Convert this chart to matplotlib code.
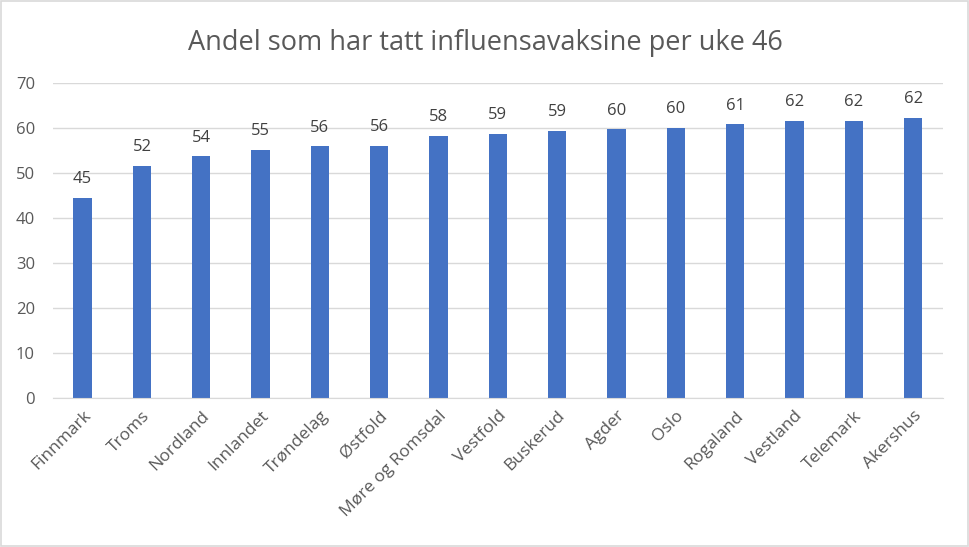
import matplotlib
matplotlib.use("Agg")
import matplotlib.pyplot as plt
from matplotlib.patches import Rectangle

categories = ["Finnmark", "Troms", "Nordland", "Innlandet", "Trøndelag", "Østfold",
              "Møre og Romsdal", "Vestfold", "Buskerud", "Agder", "Oslo", "Rogaland",
              "Vestland", "Telemark", "Akershus"]
values = [44.4, 51.5, 53.7, 55.2, 55.9, 56.0, 58.3, 58.6, 59.3, 59.7, 60.1, 60.8, 61.6, 61.6, 62.3]
labels = ["45", "52", "54", "55", "56", "56", "58", "59", "59", "60", "60", "61", "62", "62", "62"]
yticks = [0, 10, 20, 30, 40, 50, 60, 70]

plt.rcParams['font.family'] = ['Open Sans', 'DejaVu Sans']
txt = "#595959"

fig = plt.figure(figsize=(9.7, 5.47), dpi=100)
fig.patches.append(Rectangle((0.001, 0.001), 0.997, 0.997, transform=fig.transFigure,
                             fill=False, edgecolor="#d9d9d9", linewidth=1.2))
ax = fig.add_axes([0.0546, 0.2724, 0.9174, 0.5759])
x = list(range(len(categories)))
bars = ax.bar(x, values, width=0.31, color="#4472C4", zorder=3)
for xi, v, l in zip(x, values, labels):
    ax.text(xi, v + 2.4, l, ha="center", va="bottom", fontsize=12, color="#404040")

ax.set_xlim(-0.5, len(categories) - 0.5)
ax.set_ylim(0, 70)
ax.set_yticks(yticks)
ax.yaxis.grid(True, color="#d9d9d9", linewidth=1, zorder=0)
ax.tick_params(axis="y", length=0, labelsize=12, labelcolor=txt, pad=13)
ax.set_xticks(x)
ax.set_xticklabels(categories, rotation=45, ha="right", rotation_mode="anchor",
                   fontsize=12.5, color=txt)
ax.tick_params(axis="x", length=0, pad=7)
for s in ["top", "right", "left"]:
    ax.spines[s].set_visible(False)
ax.spines["bottom"].set_color("#d9d9d9")
ax.spines["bottom"].set_zorder(4)

fig.text(0.5, 0.922, "Andel som har tatt influensavaksine per uke 46", ha="center",
         va="center", fontsize=19.5, color=txt)

fig.savefig("out.png", dpi=100)
